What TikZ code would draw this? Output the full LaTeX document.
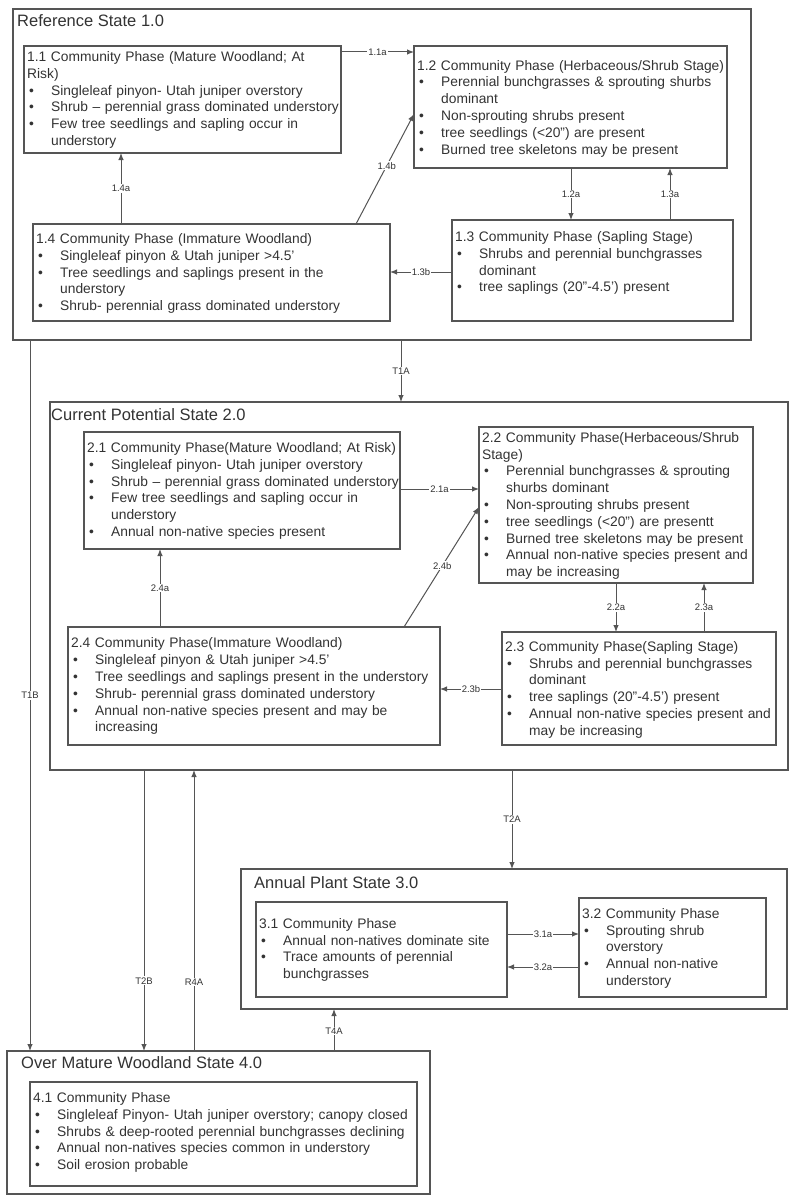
\documentclass[tikz,border=0pt]{standalone}
\usepackage{fontspec}
\setmainfont{Liberation Sans}
\usetikzlibrary{arrows.meta}
\definecolor{lc}{HTML}{555555}
\definecolor{tc}{HTML}{333333}
\newcommand\bl[1]{\makebox[24pt][l]{\hspace{2pt}\textbullet}#1}
\newcommand\cn[1]{\hspace*{24pt}#1}
\tikzset{
  statebox/.style={draw=lc, line width=1.2pt, inner sep=0pt, outer sep=0pt, anchor=north west},
  phasebox/.style={draw=lc, line width=1.2pt, inner sep=0pt, outer sep=0pt, anchor=north west},
  body/.style={text=tc, font=\fontsize{13.8}{16.8}\selectfont, align=left, inner sep=0pt, anchor=base west, text width=380pt},
  ttl/.style={text=tc, font=\fontsize{16.5}{19}\selectfont, inner sep=0pt, anchor=base west},
  lbl/.style={fill=white, inner sep=1pt, text=tc, font=\fontsize{9.5}{11}\selectfont},
  arr/.style={draw=lc, line width=1pt, -{Latex[length=7pt,width=5.5pt]}},
}
\begin{document}
\begin{tikzpicture}[x=1pt,y=-1pt]
\useasboundingbox (0,0) rectangle (800,1196);
\fill[white] (0,0) rectangle (800,1196);

% ---- State boxes
\node[statebox, minimum width=738pt, minimum height=331pt] (ref) at (13,9) {};
\node[statebox, minimum width=738pt, minimum height=368pt] (cur) at (50,402) {};
\node[statebox, minimum width=546pt, minimum height=140pt] (ann) at (241,869) {};
\node[statebox, minimum width=423pt, minimum height=143pt] (ovr) at (7,1051) {};

\node[ttl] (tref) at (17,27) {Reference State 1.0};
\node[ttl] (tcur) at (51,420) {Current Potential State 2.0};
\node[ttl] (tann) at (254,888.5) {Annual Plant State 3.0};
\node[ttl] (tovr) at (21,1068.5) {Over Mature Woodland State 4.0};

% ---- Phase boxes
\node[phasebox, minimum width=317pt, minimum height=107pt] (b11) at (24,46) {};
\node[phasebox, minimum width=313pt, minimum height=122pt] (b12) at (414,46) {};
\node[phasebox, minimum width=281pt, minimum height=101pt] (b13) at (452,220) {};
\node[phasebox, minimum width=357pt, minimum height=97pt] (b14) at (33,224) {};
\node[phasebox, minimum width=316pt, minimum height=117pt] (b21) at (84,432) {};
\node[phasebox, minimum width=274pt, minimum height=156pt] (b22) at (479,427) {};
\node[phasebox, minimum width=274pt, minimum height=113pt] (b23) at (502,632) {};
\node[phasebox, minimum width=372pt, minimum height=118pt] (b24) at (68,627) {};
\node[phasebox, minimum width=251pt, minimum height=95pt] (b31) at (256,902) {};
\node[phasebox, minimum width=187pt, minimum height=99pt] (b32) at (579,898) {};
\node[phasebox, minimum width=387pt, minimum height=104pt] (b41) at (30,1082) {};

% ---- Phase texts
\node[body] (x11) at (27,61.5) {1.1 Community Phase (Mature Woodland; At\\Risk)\\
\bl{Singleleaf pinyon- Utah juniper overstory}\\
\bl{Shrub – perennial grass dominated understory}\\
\bl{Few tree seedlings and sapling occur in}\\
\cn{understory}};
\node[body] (x12) at (417,70.2) {1.2 Community Phase (Herbaceous/Shrub Stage)\\
\bl{Perennial bunchgrasses \& sprouting shurbs}\\
\cn{dominant}\\
\bl{Non-sprouting shrubs present}\\
\bl{tree seedlings (<20") are present}\\
\bl{Burned tree skeletons may be present}};
\node[body] (x13) at (455,241.5) {1.3 Community Phase (Sapling Stage)\\
\bl{Shrubs and perennial bunchgrasses}\\
\cn{dominant}\\
\bl{tree saplings (20"-4.5') present}};
\node[body] (x14) at (36,243.5) {1.4 Community Phase (Immature Woodland)\\
\bl{Singleleaf pinyon \& Utah juniper >4.5'}\\
\bl{Tree seedlings and saplings present in the}\\
\cn{understory}\\
\bl{Shrub- perennial grass dominated understory}};
\node[body] (x21) at (87,452.5) {2.1 Community Phase(Mature Woodland; At Risk)\\
\bl{Singleleaf pinyon- Utah juniper overstory}\\
\bl{Shrub – perennial grass dominated understory}\\
\bl{Few tree seedlings and sapling occur in}\\
\cn{understory}\\
\bl{Annual non-native species present}};
\node[body] (x22) at (482,442.2) {2.2 Community Phase(Herbaceous/Shrub\\Stage)\\
\bl{Perennial bunchgrasses \& sprouting}\\
\cn{shurbs dominant}\\
\bl{Non-sprouting shrubs present}\\
\bl{tree seedlings (<20") are presentt}\\
\bl{Burned tree skeletons may be present}\\
\bl{Annual non-native species present and}\\
\cn{may be increasing}};
\node[body] (x23) at (505,651.2) {2.3 Community Phase(Sapling Stage)\\
\bl{Shrubs and perennial bunchgrasses}\\
\cn{dominant}\\
\bl{tree saplings (20"-4.5') present}\\
\bl{Annual non-native species present and}\\
\cn{may be increasing}};
\node[body] (x24) at (71,647.8) {2.4 Community Phase(Immature Woodland)\\
\bl{Singleleaf pinyon \& Utah juniper >4.5'}\\
\bl{Tree seedlings and saplings present in the understory}\\
\bl{Shrub- perennial grass dominated understory}\\
\bl{Annual non-native species present and may be}\\
\cn{increasing}};
\node[body] (x31) at (259,928.3) {3.1 Community Phase\\
\bl{Annual non-natives dominate site}\\
\bl{Trace amounts of perennial}\\
\cn{bunchgrasses}};
\node[body] (x32) at (582,918.2) {3.2 Community Phase\\
\bl{Sprouting shrub}\\
\cn{overstory}\\
\bl{Annual non-native}\\
\cn{understory}};
\node[body] (x41) at (33,1102.5) {4.1 Community Phase\\
\bl{Singleleaf Pinyon- Utah juniper overstory; canopy closed}\\
\bl{Shrubs \& deep-rooted perennial bunchgrasses declining}\\
\bl{Annual non-natives species common in understory}\\
\bl{Soil erosion probable}};

% ---- Connectors within state 1
\draw[arr] ([yshift=-6pt]b11.north east) -- node[lbl]{1.1a} ([yshift=-6pt]b12.north west);
\draw[arr] ([xshift=88pt]b14.north west) -- node[lbl]{1.4a} ([xshift=97pt]b11.south west);
\draw[arr] ([xshift=323pt]b14.north west) -- node[lbl,pos=0.53]{1.4b} ([yshift=-68pt]b12.north west);
\draw[arr] ([xshift=157pt]b12.south west) -- node[lbl]{1.2a} ([xshift=119pt]b13.north west);
\draw[arr] ([xshift=218pt]b13.north west) -- node[lbl]{1.3a} ([xshift=256pt]b12.south west);
\draw[arr] ([yshift=-52pt]b13.north west) -- node[lbl]{1.3b} ([yshift=-48pt]b14.north east);

% ---- Connectors within state 2
\draw[arr] ([yshift=-57pt]b21.north east) -- node[lbl]{2.1a} ([yshift=-62pt]b22.north west);
\draw[arr] ([xshift=92pt]b24.north west) -- node[lbl]{2.4a} ([xshift=76pt]b21.south west);
\draw[arr] ([xshift=336pt]b24.north west) -- node[lbl,pos=0.51]{2.4b} ([yshift=-80pt]b22.north west);
\draw[arr] ([xshift=137pt]b22.south west) -- node[lbl]{2.2a} ([xshift=114pt]b23.north west);
\draw[arr] ([xshift=202pt]b23.north west) -- node[lbl]{2.3a} ([xshift=225pt]b22.south west);
\draw[arr] ([yshift=-57pt]b23.north west) -- node[lbl]{2.3b} ([yshift=-62pt]b24.north east);

% ---- Connectors within state 3
\draw[arr] ([yshift=-32pt]b31.north east) -- node[lbl]{3.1a} ([yshift=-36pt]b32.north west);
\draw[arr] ([yshift=-69pt]b32.north west) -- node[lbl]{3.2a} ([yshift=-65pt]b31.north east);

% ---- Transitions between states
\draw[arr] ([xshift=388pt]ref.south west) -- node[lbl]{T1A} ([xshift=351pt]cur.north west);
\draw[arr] ([xshift=17pt]ref.south west) -- node[lbl,pos=0.5]{T1B} ([xshift=23pt]ovr.north west);
\draw[arr] ([xshift=94pt]cur.south west) -- node[lbl,pos=0.75]{T2B} ([xshift=137pt]ovr.north west);
\draw[arr] ([xshift=187pt]ovr.north west) -- node[lbl,pos=0.245]{R4A} ([xshift=144pt]cur.south west);
\draw[arr] ([xshift=462pt]cur.south west) -- node[lbl]{T2A} ([xshift=271pt]ann.north west);
\draw[arr] ([xshift=327pt]ovr.north west) -- node[lbl,pos=0.48]{T4A} ([xshift=93pt]ann.south west);
\end{tikzpicture}
\end{document}
